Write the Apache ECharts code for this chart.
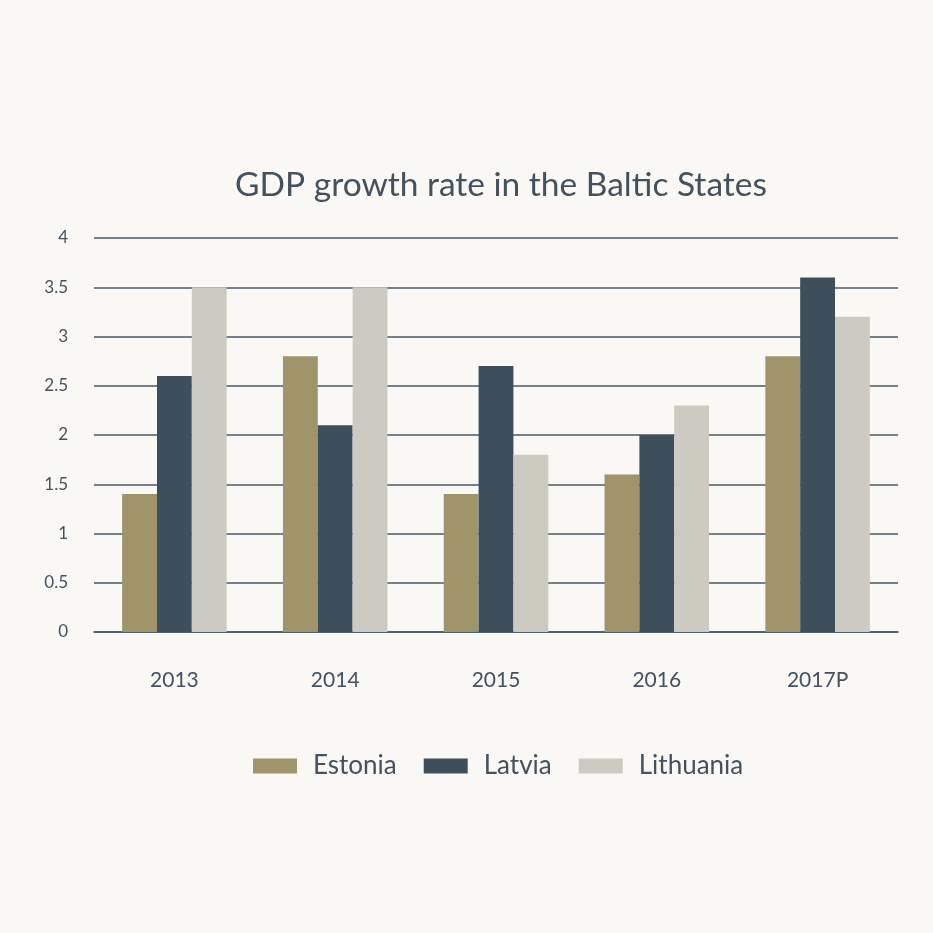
<!DOCTYPE html>
<html>
<head>
<meta charset="utf-8">
<script src="https://cdn.jsdelivr.net/npm/echarts@6/dist/echarts.min.js"></script>
<style>
  html, body { margin: 0; padding: 0; background: #f9f8f4; }
  #chart { width: 933px; height: 933px; }
</style>
</head>
<body>
<div id="chart"></div>
<script>
// data
const years = ["2013", "2014", "2015", "2016", "2017P"];
const estonia = [1.4, 2.8, 1.4, 1.6, 2.8];
const latvia = [2.6, 2.1, 2.7, 2.0, 3.6];
const lithuania = [3.5, 3.5, 1.8, 2.3, 3.2];

const TEXT = "#44525e";
const FONT = "Lato, 'Open Sans', sans-serif";

const chart = echarts.init(document.getElementById("chart"));

function bar(name, data, color) {
  return {
    name,
    type: "bar",
    data,
    barGap: "0%",
    barCategoryGap: "35%",
    itemStyle: { color },
    z: 3,
  };
}

// title and legend are centred over the plot area (94..898), not the page
chart.setOption({
  backgroundColor: "#f9f8f4",
  animation: false,
  textStyle: { fontFamily: FONT, color: TEXT },
  title: {
    text: "GDP growth rate in the Baltic States",
    left: 496,
    textAlign: "center",
    top: 163,
    textStyle: { fontFamily: FONT, fontSize: 33.5, fontWeight: "normal", color: TEXT },
  },
  legend: {
    top: 748,
    left: 248,
    itemWidth: 44,
    itemHeight: 15,
    itemGap: 27,
    icon: "rect",
    textStyle: { fontFamily: FONT, fontSize: 26, color: TEXT, padding: [0, 0, 0, 11] },
  },
  grid: { left: 94, right: 35, top: 238, bottom: 301, containLabel: false },
  xAxis: {
    type: "category",
    data: years,
    axisTick: { show: false },
    axisLine: { lineStyle: { color: "#4a5864", width: 1.5 } },
    axisLabel: { fontFamily: FONT, fontSize: 21, color: TEXT, margin: 38 },
  },
  yAxis: {
    type: "value",
    min: 0,
    max: 4,
    interval: 0.5,
    axisLine: { show: false },
    axisTick: { show: false },
    axisLabel: { fontFamily: FONT, fontSize: 17, color: TEXT, margin: 26 },
    splitLine: { lineStyle: { color: "#4a5864", width: 1.5 } },
  },
  series: [
    bar("Estonia", estonia, "#a0946b"),
    bar("Latvia", latvia, "#3e4f5c"),
    bar("Lithuania", lithuania, "#cdcac2"),
  ],
});
</script>
</body>
</html>
